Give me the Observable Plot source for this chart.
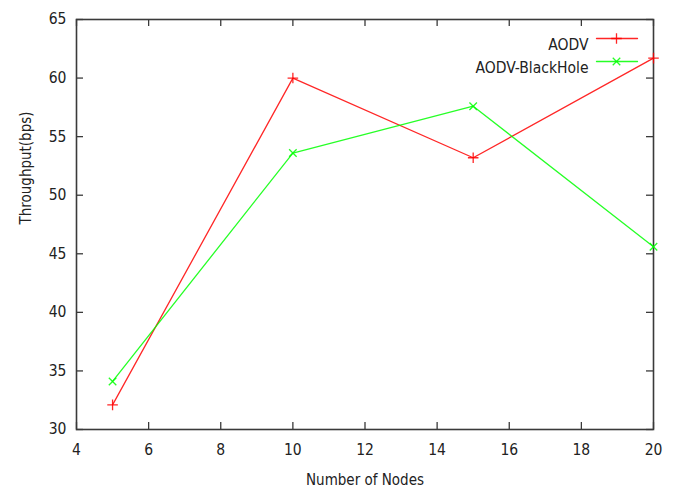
<!DOCTYPE html>
<html>
<head>
<meta charset="utf-8">
<script src="https://cdn.jsdelivr.net/npm/d3@7"></script>
<script src="https://cdn.jsdelivr.net/npm/@observablehq/plot@0.6"></script>
<style>
  html, body { margin: 0; padding: 0; background: #fff; }
  svg { display: block; font-family: "DejaVu Sans Condensed", "DejaVu Sans", sans-serif; font-stretch: condensed; }
</style>
</head>
<body>
<div id="chart"></div>
<script>
const nodes = [5, 10, 15, 20];
const aodv = [32.1, 60.0, 53.2, 61.7];
const blackHole = [34.1, 53.6, 57.6, 45.6];
const xTicks = [4, 6, 8, 10, 12, 14, 16, 18, 20];
const yTicks = [30, 35, 40, 45, 50, 55, 60, 65];
const seriesNames = ["AODV", "AODV-BlackHole"];
const seriesColors = ["#ff0000", "#00ff00"];
const seriesSymbols = ["plus", "times"];

const W = 681, H = 493;
const mL = 76, mR = 28, mT = 19, mB = 64;
const pw = W - mL - mR, ph = H - mT - mB;
const tick = 7;
const axisColor = "#3a3a3a";
const fs = 15;
const lfs = 15.5;

const rows = [];
nodes.forEach((n, i) => {
  rows.push({series: seriesNames[0], x: n, y: aodv[i]});
  rows.push({series: seriesNames[1], x: n, y: blackHole[i]});
});

const lineShape = {draw(ctx, l) { ctx.moveTo(0, 0); ctx.lineTo(0, -l); }};

const marks = [];
// ticks (inward, mirrored)
marks.push(Plot.tickX(xTicks, {x: d => d, insetTop: ph - tick, stroke: axisColor, strokeWidth: 1.3}));
marks.push(Plot.tickX(xTicks, {x: d => d, insetBottom: ph - tick, stroke: axisColor, strokeWidth: 1.3}));
marks.push(Plot.tickY(yTicks, {y: d => d, insetRight: pw - tick, stroke: axisColor, strokeWidth: 1.3}));
marks.push(Plot.tickY(yTicks, {y: d => d, insetLeft: pw - tick, stroke: axisColor, strokeWidth: 1.3}));
marks.push(Plot.frame({stroke: axisColor, strokeWidth: 1.6}));
marks.push(Plot.axisX(xTicks, {tickSize: 0, tickPadding: 14, fontSize: lfs, fill: "#222", label: null}));
marks.push(Plot.axisY(yTicks, {tickSize: 0, tickPadding: 10, fontSize: lfs, fill: "#222", label: null}));
// axis titles
marks.push(Plot.text(["Number of Nodes"], {frameAnchor: "bottom", dy: 55, fontSize: fs, fill: "#222"}));
marks.push(Plot.text(["Throughput(bps)"], {frameAnchor: "left", dx: -50, rotate: -90, fontSize: fs, fill: "#222"}));
// data
seriesNames.forEach((s, i) => {
  const d = rows.filter(r => r.series === s);
  marks.push(Plot.line(d, {x: "x", y: "y", stroke: seriesColors[i], strokeWidth: 1.3, strokeOpacity: 0.85}));
  marks.push(Plot.dot(d, {x: "x", y: "y", symbol: seriesSymbols[i], r: 3.5, stroke: seriesColors[i], strokeWidth: 1.3, strokeOpacity: 0.85}));
});
// legend
seriesNames.forEach((s, i) => {
  const dy = 19 + i * 23;
  marks.push(Plot.text([s], {frameAnchor: "top-right", dx: -(653 - 588), dy, textAnchor: "end", fontSize: lfs, fill: "#222"}));
  marks.push(Plot.vector([s], {frameAnchor: "top-right", dx: -(653 - 596), dy, length: 41, rotate: 90, anchor: "start", shape: lineShape, stroke: seriesColors[i], strokeWidth: 1.3, strokeOpacity: 0.85}));
  marks.push(Plot.dot([s], {frameAnchor: "top-right", dx: -(653 - 616), dy, symbol: seriesSymbols[i], r: 3.5, stroke: seriesColors[i], strokeWidth: 1.3, strokeOpacity: 0.85}));
});

const chart = Plot.plot({
  width: W, height: H,
  marginLeft: mL, marginRight: mR, marginTop: mT, marginBottom: mB,
  x: {domain: [4, 20]},
  y: {domain: [30, 65]},
  style: {fontFamily: '"DejaVu Sans Condensed", "DejaVu Sans", sans-serif', fontSize: fs + "px"},
  marks
});
document.getElementById("chart").appendChild(chart);
</script>
</body>
</html>
